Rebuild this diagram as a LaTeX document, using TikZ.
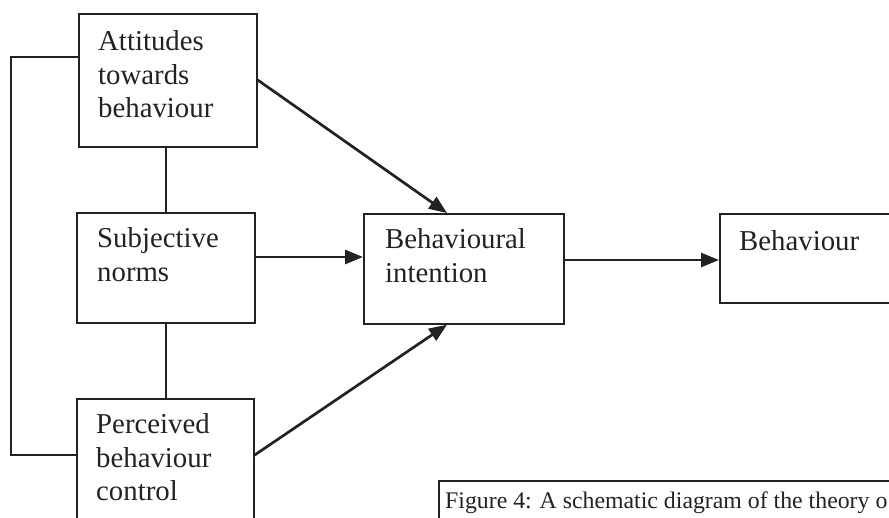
\documentclass[tikz,border=0pt]{standalone}
\usepackage{fontspec}
\setmainfont{Liberation Serif}
\usetikzlibrary{arrows.meta,calc}
\definecolor{ink}{HTML}{222222}
\begin{document}
\begin{tikzpicture}[x=1pt,y=-1pt,
  box/.style={draw=ink, line width=1.7pt, rectangle, inner sep=0pt, anchor=north west},
  lbl/.style={anchor=north west, inner sep=0pt, align=left, text=ink,
              font=\fontsize{28.8}{33.8}\selectfont},
  link/.style={draw=ink, line width=2.7pt},
  arr/.style={link, -{Triangle[length=18pt,width=14pt]}},
]
\useasboundingbox (0,0) rectangle (889,517);
\clip (0,0) rectangle (889,517);

% boxes
\node[box, minimum width=178pt, minimum height=133pt] (att)  at (78,13)  {};
\node[box, minimum width=178pt, minimum height=110pt] (subj) at (76,212) {};
\node[box, minimum width=177pt, minimum height=150pt] (per)  at (76,398) {};
\node[box, minimum width=200pt, minimum height=110pt] (bi)   at (363,213) {};
\node[box, minimum width=200pt, minimum height=89pt]  (beh)  at (719,213) {};
\node[box, minimum width=500pt, minimum height=80pt]  (cap)  at (438,480) {};

% labels
\node[lbl] (attT)  at ($(att.north west)+(20,17)$)  {\rule{0pt}{20pt}Attitudes\\towards\\behaviour};
\node[lbl] (subjT) at ($(subj.north west)+(21,15)$) {\rule{0pt}{20pt}Subjective\\norms};
\node[lbl] (perT)  at ($(per.north west)+(20,15)$)  {\rule{0pt}{20pt}Perceived\\behaviour\\control};
\node[lbl] (biT)   at ($(bi.north west)+(22,15)$)   {\rule{0pt}{20pt}Behavioural\\intention};
\node[lbl] (behT)  at ($(beh.north west)+(20,17)$)  {\rule{0pt}{20pt}Behaviour};
\node[anchor=base west, inner sep=0pt, text=ink, font=\fontsize{23.8}{28}\selectfont] (capT)
  at ($(cap.north west)+(7,28)$) {Figure 4: A schematic diagram of the theory o};

% links between the three antecedents
\coordinate (rail) at (11,300);
\draw[link] ($(att.north west)+(0,44)$) -| (rail) |- ($(per.north west)+(0,57)$);
\draw[link] (subj.north |- att.south) -- (subj.north);
\draw[link] (subj.south) -- (per.north -| subj.south);

% arrows towards intention and behaviour
\draw[arr] ($(att.north east)+(0,67)$)  -- ($(bi.north west)+(84,0)$);
\draw[arr] ($(subj.north east)+(0,45)$) -- ($(bi.north west)+(0,44)$);
\draw[arr] ($(per.north east)+(0,57)$)  -- ($(bi.south west)+(84,0)$);
\draw[arr] ($(bi.north east)+(0,47)$)   -- ($(beh.north west)+(0,47)$);
\end{tikzpicture}
\end{document}
